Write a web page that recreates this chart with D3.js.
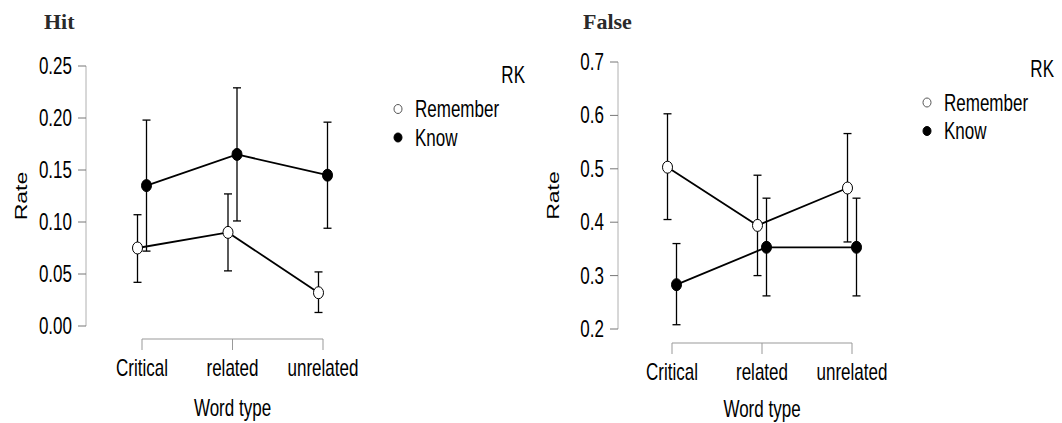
<!DOCTYPE html>
<html>
<head>
<meta charset="utf-8">
<script src="https://cdn.jsdelivr.net/npm/d3@7"></script>
<style>
  body { margin: 0; background: #fff; }
  text { font-family: "Liberation Sans", Arial, sans-serif; fill: #000; }
</style>
</head>
<body>
<svg id="chart" width="1062" height="423"></svg>
<script>
  // data
  var wordTypes = ["Critical", "related", "unrelated"];
  var rkLevels = ["Remember", "Know"];

  var hitRemember   = [0.075, 0.090, 0.032];
  var hitRememberLo = [0.042, 0.053, 0.013];
  var hitRememberHi = [0.107, 0.127, 0.052];
  var hitKnow       = [0.135, 0.165, 0.145];
  var hitKnowLo     = [0.072, 0.101, 0.094];
  var hitKnowHi     = [0.198, 0.229, 0.196];
  var hitTicks      = [0, 0.05, 0.10, 0.15, 0.20, 0.25];

  var falseRemember   = [0.503, 0.394, 0.464];
  var falseRememberLo = [0.405, 0.300, 0.363];
  var falseRememberHi = [0.603, 0.488, 0.566];
  var falseKnow       = [0.283, 0.353, 0.353];
  var falseKnowLo     = [0.208, 0.262, 0.262];
  var falseKnowHi     = [0.360, 0.445, 0.445];
  var falseTicks      = [0.2, 0.3, 0.4, 0.5, 0.6, 0.7];

  var svg = d3.select("#chart");
  var squash = 0.74;   // the original text is horizontally condensed
  var fs = 23;

  function label(g, x, y, s, anchor) {
    return g.append("text")
      .attr("transform", "translate(" + x + "," + y + ") scale(" + squash + ",1)")
      .attr("text-anchor", anchor)
      .attr("font-size", fs)
      .text(s);
  }

  function drawPanel(p) {
    var g = svg.append("g");

    var y = d3.scaleLinear().domain(d3.extent(p.ticks)).range([p.yBottom, p.yTop]);
    var x = d3.scalePoint().domain(wordTypes).range([p.xFirst, p.xLast]);

    // title
    g.append("text")
      .attr("x", p.titleX).attr("y", 29)
      .style("font-family", '"Liberation Serif", "Times New Roman", serif')
      .style("fill", "#2a2a2a")
      .attr("font-weight", "bold")
      .attr("font-size", 22)
      .text(p.title);

    // y axis
    g.append("line")
      .attr("x1", p.axisX).attr("x2", p.axisX)
      .attr("y1", y(p.ticks[0])).attr("y2", y(p.ticks[p.ticks.length - 1]))
      .attr("stroke", "#b0b0b0").attr("stroke-width", 1);
    p.ticks.forEach(function(t) {
      g.append("line")
        .attr("x1", p.axisX - 8).attr("x2", p.axisX)
        .attr("y1", y(t)).attr("y2", y(t))
        .attr("stroke", "#777").attr("stroke-width", 1);
      label(g, p.axisX - 14, y(t) + 8, d3.format(p.fmt)(t), "end");
    });

    g.append("text")
      .attr("transform", "translate(" + (p.axisX - 59) + "," + ((p.yTop + p.yBottom) / 2) + ") rotate(-90) scale(1," + squash + ")")
      .attr("text-anchor", "middle")
      .attr("font-size", fs)
      .text("Rate");

    // x axis bracket
    g.append("line")
      .attr("x1", x(wordTypes[0])).attr("x2", x(wordTypes[2]))
      .attr("y1", p.bracketY).attr("y2", p.bracketY)
      .attr("stroke", "#999").attr("stroke-width", 1);
    wordTypes.forEach(function(w) {
      g.append("line")
        .attr("x1", x(w)).attr("x2", x(w))
        .attr("y1", p.bracketY).attr("y2", p.bracketY + 11)
        .attr("stroke", "#999").attr("stroke-width", 1);
      label(g, x(w), p.bracketY + 37, w, "middle");
    });
    label(g, x(wordTypes[1]), p.xTitleY, "Word type", "middle");

    // series
    var dodge = { Remember: -4.5, Know: 4.5 };
    p.series.forEach(function(s) {
      var pts = wordTypes.map(function(w, i) {
        return { x: x(w) + dodge[s.name], v: s.mean[i], lo: s.lo[i], hi: s.hi[i] };
      });

      g.append("path")
        .datum(pts)
        .attr("fill", "none")
        .attr("stroke", "#000")
        .attr("stroke-width", 1.8)
        .attr("d", d3.line().x(function(d) { return d.x; }).y(function(d) { return y(d.v); }));

      var eb = g.selectAll(null).data(pts).enter().append("g");
      eb.append("line")
        .attr("x1", function(d) { return d.x; }).attr("x2", function(d) { return d.x; })
        .attr("y1", function(d) { return y(d.lo); }).attr("y2", function(d) { return y(d.hi); })
        .attr("stroke", "#000").attr("stroke-width", 1.3);
      ["lo", "hi"].forEach(function(k) {
        eb.append("line")
          .attr("x1", function(d) { return d.x - 4; }).attr("x2", function(d) { return d.x + 4; })
          .attr("y1", function(d) { return y(d[k]); }).attr("y2", function(d) { return y(d[k]); })
          .attr("stroke", "#000").attr("stroke-width", 1.3);
      });

      g.selectAll(null).data(pts).enter().append("ellipse")
        .attr("cx", function(d) { return d.x; })
        .attr("cy", function(d) { return y(d.v); })
        .attr("rx", 5).attr("ry", 6)
        .attr("fill", s.name === "Remember" ? "#fff" : "#000")
        .attr("stroke", "#000").attr("stroke-width", 1);
    });

    // legend
    label(g, p.legendX + 127, p.legendY - 34, "RK", "end");
    rkLevels.forEach(function(name, i) {
      var ly = p.legendY + i * 28.5;
      g.append("ellipse")
        .attr("cx", p.legendX).attr("cy", ly - 8)
        .attr("rx", 4).attr("ry", 4.5)
        .attr("fill", name === "Remember" ? "#fff" : "#000")
        .attr("stroke", name === "Remember" ? "#555" : "#000")
        .attr("stroke-width", 1);
      label(g, p.legendX + 17, ly, name, "start");
    });
  }

  drawPanel({
    title: "Hit", titleX: 44,
    ticks: hitTicks, fmt: ".2f",
    yTop: 66, yBottom: 326, axisX: 86,
    xFirst: 142, xLast: 323, bracketY: 339, xTitleY: 416,
    legendX: 398, legendY: 117,
    series: [
      { name: "Remember", mean: hitRemember, lo: hitRememberLo, hi: hitRememberHi },
      { name: "Know", mean: hitKnow, lo: hitKnowLo, hi: hitKnowHi }
    ]
  });

  drawPanel({
    title: "False", titleX: 583,
    ticks: falseTicks, fmt: ".1f",
    yTop: 62, yBottom: 329, axisX: 618,
    xFirst: 672, xLast: 852, bracketY: 343, xTitleY: 417,
    legendX: 927, legendY: 110.5,
    series: [
      { name: "Remember", mean: falseRemember, lo: falseRememberLo, hi: falseRememberHi },
      { name: "Know", mean: falseKnow, lo: falseKnowLo, hi: falseKnowHi }
    ]
  });
</script>
</body>
</html>
